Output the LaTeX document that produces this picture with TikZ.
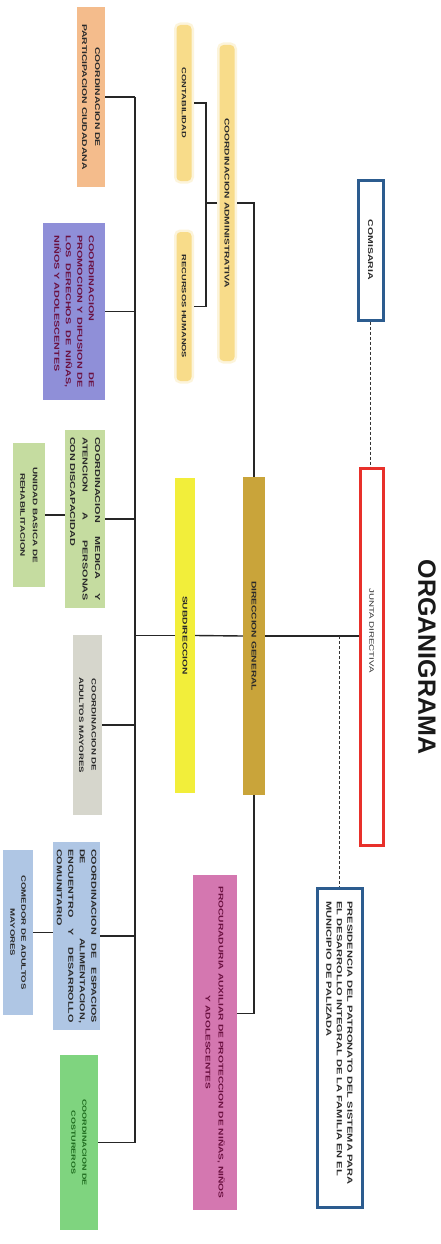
\documentclass[tikz,border=0pt]{standalone}
\usepackage{fontspec}
\setmainfont{Liberation Sans}
\newfontfamily\wf[FakeStretch=1.5]{Liberation Sans}
\usetikzlibrary{calc}
\definecolor{bluebd}{HTML}{2C5C8F}
\definecolor{redbd}{HTML}{E8302A}
\definecolor{gold}{HTML}{C9A43A}
\definecolor{brightyel}{HTML}{F2EE3A}
\definecolor{softyel}{HTML}{F8DC8A}
\definecolor{peach}{HTML}{F4BC8C}
\definecolor{lilac}{HTML}{8F8FD8}
\definecolor{lgreen}{HTML}{C5DCA0}
\definecolor{lgrey}{HTML}{D6D6CC}
\definecolor{lblue}{HTML}{AFC6E4}
\definecolor{mgreen}{HTML}{7FD47F}
\definecolor{pink}{HTML}{D477B0}
\definecolor{txt}{HTML}{2A2A2A}
\definecolor{wine}{HTML}{6A1040}
\definecolor{dgreen}{HTML}{1E6B1E}
\begin{document}
\begin{tikzpicture}[x=1pt,y=-1pt,
  box/.style={rotate=-90, inner sep=1pt, align=center, text=txt},
  fs/.style={font=\wf\bfseries\fontsize{#1}{11}\selectfont},
  glow/.style={fill=softyel, draw=softyel, draw opacity=0.3, line width=5pt, rounded corners=4pt},
  conn/.style={line width=1.4pt, black!85},
  dconn/.style={line width=0.9pt, black!80, dash pattern=on 3pt off 2pt}]
\useasboundingbox (0,0) rectangle (440,1244);
\fill[white] (0,0) rectangle (440,1244);

% title
\node[rotate=-90, inner sep=0pt, font=\bfseries\fontsize{25}{28}\selectfont, text=black!90] (title) at (427,657) {ORGANIGRAMA};

% top level
\node[box, fs=7, draw=bluebd, line width=3pt, minimum width=140pt, minimum height=25pt] (com) at (370.5,250) {COMISARIA};
\node[box, font=\wf\fontsize{6.5}{8}\selectfont, draw=redbd, line width=3pt, minimum width=377pt, minimum height=23pt] (jd) at (371.5,656.5) {JUNTA DIRECTIVA\hspace{52pt}};
\node[box, draw=bluebd, line width=3pt, minimum width=319pt, minimum height=45pt, font=\wf\bfseries\fontsize{7.4}{10.5}\selectfont] (pres) at (339.5,1047.5)
  {\makebox[292pt][l]{PRESIDENCIA DEL PATRONATO DEL SISTEMA PARA}\\
   \makebox[292pt][l]{EL DESARROLLO INTEGRAL DE LA FAMILIA EN EL}\\
   \makebox[292pt][l]{MUNICIPIO DE PALIZADA}};

\node[box, fs=6.8, fill=gold, minimum width=318pt, minimum height=22pt] (dg) at (254,636) {DIRECCION GENERAL};
\node[box, fs=6.8, fill=brightyel, minimum width=315pt, minimum height=20pt] (sub) at (185,635.5) {SUBDIRECCION};

\node[box, fs=6.8, glow, minimum width=316pt, minimum height=15pt] (ca) at (227,203) {COORDINACION ADMINISTRATIVA};
\node[box, fs=6.2, glow, minimum width=156pt, minimum height=15pt] (cont) at (184,103) {CONTABILIDAD};
\node[box, fs=6.2, glow, minimum width=149pt, minimum height=15pt] (rh) at (184,306.5) {RECURSOS HUMANOS};

\node[box, fill=pink, text=wine, minimum width=335pt, minimum height=44pt, font=\wf\bfseries\fontsize{6.8}{13}\selectfont] (proc) at (215,1042.5)
  {PROCURADURIA AUXILIAR DE PROTECCION DE NIÑAS, NIÑOS\\ Y ADOLESCENTES};

% bottom level
\node[box, fill=peach, minimum width=180pt, minimum height=28pt, font=\wf\bfseries\fontsize{6.9}{13}\selectfont] (part) at (91,97)
  {COORDINACION DE\\ PARTICIPACION CIUDADANA};
\node[box, fill=lilac, text=wine, minimum width=177pt, minimum height=62pt, font=\wf\bfseries\fontsize{7.2}{11.5}\selectfont] (purp) at (74,311.5)
  {\makebox[152pt]{COORDINACION\hfill DE}\\
   \makebox[152pt][s]{PROMOCION Y DIFUSION DE}\\
   \makebox[152pt][s]{LOS DERECHOS DE NIÑAS,}\\
   \makebox[152pt][l]{NIÑOS Y ADOLESCENTES}};
\node[box, fill=lgreen, minimum width=178pt, minimum height=40pt, font=\wf\bfseries\fontsize{7.2}{12.5}\selectfont] (med) at (85,519)
  {\makebox[164pt][s]{COORDINACION MEDICA Y}\\
   \makebox[164pt][s]{ATENCION A PERSONAS}\\
   \makebox[164pt][l]{CON DISCAPACIDAD}};
\node[box, fill=lgreen, minimum width=144pt, minimum height=32pt, font=\wf\bfseries\fontsize{6.6}{12.5}\selectfont] (ub) at (29,515)
  {UNIDAD BASICA DE\\ REHABILITACION};
\node[box, fill=lgrey, minimum width=180pt, minimum height=29pt, font=\wf\bfseries\fontsize{6.4}{12.5}\selectfont] (am) at (87.5,725)
  {COORDINACION DE\\ ADULTOS MAYORES};
\node[box, fill=lblue, minimum width=188pt, minimum height=47pt, font=\wf\bfseries\fontsize{7.2}{11.5}\selectfont] (esp) at (76.5,936)
  {\makebox[174pt][s]{COORDINACION DE ESPACIOS}\\
   \makebox[174pt]{DE\hfill ALIMENTACION,}\\
   \makebox[174pt][s]{ENCUENTRO Y DESARROLLO}\\
   \makebox[174pt][l]{COMUNITARIO}};
\node[box, fill=lblue, minimum width=165pt, minimum height=30pt, font=\wf\bfseries\fontsize{6.4}{11}\selectfont] (come) at (18,932.5)
  {COMEDOR DE ADULTOS\\ MAYORES};
\node[box, fill=mgreen, text=dgreen, minimum width=175pt, minimum height=38pt, font=\wf\bfseries\fontsize{6}{11}\selectfont] (cost) at (79,1142.5)
  {COORDINACION DE\\ COSTUREROS};

% connectors
\coordinate (bus) at (135,0);
\coordinate (br) at (206,0);
\coordinate (dsplit) at (339,0);
\draw[dconn] (com.east) -- (com.east |- jd.west);
\draw[conn] (jd.south |- dg.north) -- (dg.north);
\draw[dconn] (dsplit |- dg.north) -- (dsplit |- pres.west);
\draw[conn] (dg.south) -- (sub.north);
\draw[conn] (dg.west) |- (ca.north);
\draw[conn] (ca.south) -- (ca.south -| br);
\draw[conn] (cont.north) -- (cont.north -| br) -- (rh.north -| br) -- (rh.north);
\draw[conn] (dg.east) |- ($(proc.north)+(0,-29)$);
\draw[conn] (sub.south) -- (sub.south -| bus);
\draw[conn] (part.north -| bus) -- (cost.north -| bus);
\foreach \n in {part,purp,med,am,esp,cost}{\draw[conn] (\n.north) -- (\n.north -| bus);}
\draw[conn] (ub.north) -- (ub.north -| med.south);
\draw[conn] (come.north) -- (come.north -| esp.south);
\end{tikzpicture}
\end{document}
